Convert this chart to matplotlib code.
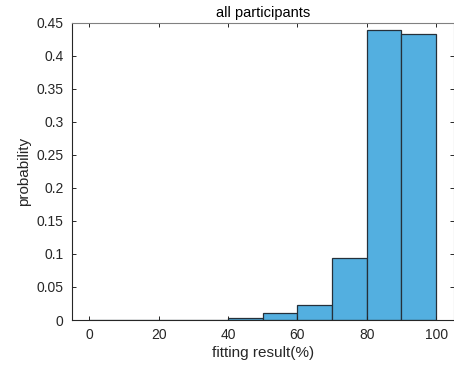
import numpy as np
import matplotlib
matplotlib.use("Agg")
import matplotlib.pyplot as plt

# Histogram bins (fitting result %) and normalized probabilities
bin_edges = [0, 10, 20, 30, 40, 50, 60, 70, 80, 90, 100]
probability = [0.0, 0.0, 0.0, 0.0, 0.0025, 0.011, 0.0227, 0.0937, 0.438, 0.4325]
xticks = [0, 20, 40, 60, 80, 100]
yticks = [0, 0.05, 0.1, 0.15, 0.2, 0.25, 0.3, 0.35, 0.4, 0.45]
ytick_labels = ["0", "0.05", "0.1", "0.15", "0.2", "0.25", "0.3", "0.35", "0.4", "0.45"]

plt.rcParams['font.family'] = ['Liberation Sans', 'DejaVu Sans']

fig = plt.figure(figsize=(4.54, 3.65), dpi=100)
ax = fig.add_axes([72 / 454, 45 / 365, 381.5 / 454, 297.5 / 365])

edges = np.array(bin_edges)
ax.bar(edges[:-1], probability, width=np.diff(edges), align='edge',
       color='#53afe0', edgecolor='#25303a', linewidth=0.9)

ax.set_xlim(-5, 105)
ax.set_ylim(0, 0.45)
ax.set_xticks(xticks)
ax.set_yticks(yticks)
ax.set_yticklabels(ytick_labels)

ax.tick_params(direction='in', length=3, width=0.7, colors='#262626',
               labelsize=10, top=True, right=True, pad=6)
for side in ['left', 'bottom']:
    ax.spines[side].set_color('#262626')
    ax.spines[side].set_linewidth(0.8)
for side in ['top', 'right']:
    ax.spines[side].set_color('#808080')
    ax.spines[side].set_linewidth(0.8)

ax.set_xlabel("fitting result(%)", fontsize=11, color='#262626', labelpad=3)
ax.set_ylabel("probability", fontsize=11, color='#262626', labelpad=4)
ax.set_title("all participants", fontsize=10.5, color='#000000', pad=4)

fig.savefig("out.png", dpi=100)
